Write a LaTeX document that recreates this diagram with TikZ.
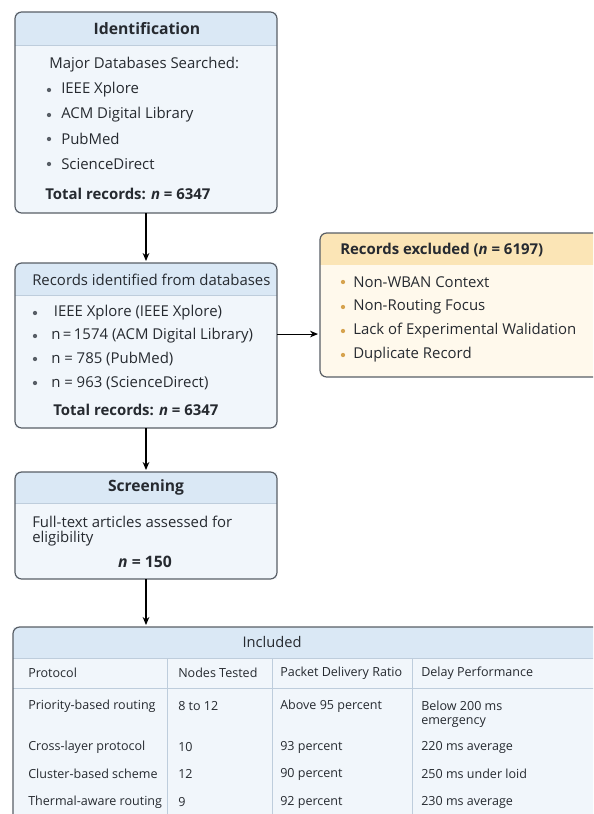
\documentclass[tikz,border=0pt]{standalone}
\usepackage{fontspec}
\setmainfont{Open Sans}
\usetikzlibrary{arrows.meta,fit}
\definecolor{prismahead}{RGB}{218,232,245}
\definecolor{prismabody}{RGB}{241,246,251}
\definecolor{prismaline}{RGB}{88,94,102}
\definecolor{prismarule}{RGB}{190,205,220}
\definecolor{exclhead}{RGB}{251,229,182}
\definecolor{exclbody}{RGB}{255,249,236}
\definecolor{exclbullet}{RGB}{214,163,78}
\definecolor{inktext}{RGB}{38,42,48}

\begin{document}
\begin{tikzpicture}[x=0.75pt, y=-0.75pt,
    every node/.style={font=\fontsize{11.2}{13}\selectfont, text=inktext, inner sep=0pt},
    stage/.style={fill=prismabody, inner sep=0pt, outer sep=0pt},
    frame/.style={draw=prismaline, line width=0.9pt, rounded corners=5pt},
    txt/.style={anchor=west},
    bold/.style={font=\bfseries\fontsize{11.2}{13}\selectfont},
    dot/.style={circle, fill=prismaline, minimum size=3.2pt},
    flow/.style={-{Stealth[length=6pt, width=5pt]}, line width=0.8pt, shorten >=1.5pt},
    tab/.style={anchor=west, font=\fontsize{9.4}{11}\selectfont}]

    \useasboundingbox (0,0) rectangle (593,814);
    \clip (0,0) rectangle (593,814);

    % Identification
    \node[stage, fit={(15,12) (277,213)}] (ident) {};
    \begin{scope}
        \clip[rounded corners=5pt] (ident.north west) rectangle (ident.south east);
        \fill[prismahead] (15,12) rectangle (277,45);
    \end{scope}
    \draw[prismarule] (15,45) -- (277,45);
    \draw[frame] (ident.north west) rectangle (ident.south east);
    \node[font=\bfseries\fontsize{11.8}{14}\selectfont] (identhead) at (147,29) {Identification};
    \node[txt] (identsub) at (49,65) {Major Databases Searched:};
    \foreach \y/\db in {90/IEEE Xplore, 115/ACM Digital Library, 139/PubMed, 164/ScienceDirect} {
        \node[dot] (identdot\y) at (49,\y) {};
        \node[txt] (identdb\y) at (61,\y) {\db};
    }
    \node[txt, bold] (identtotal) at (45,194) {Total records: \textit{n} = 6347};

    % Records identified
    \node[stage, fit={(15,263) (277,428)}] (recs) {};
    \begin{scope}
        \clip[rounded corners=5pt] (recs.north west) rectangle (recs.south east);
        \fill[prismahead] (15,263) rectangle (277,295);
    \end{scope}
    \draw[prismarule] (15,295) -- (277,295);
    \draw[frame] (recs.north west) rectangle (recs.south east);
    \node[txt] (recshead) at (32,280) {Records identified from databases};
    \foreach \y/\db in {313/{\hspace{2pt}IEEE Xplore (IEEE Xplore)}, 336/n\,=\,1574 (ACM Digital Library), 359/n = 785 (PubMed), 383/n = 963 (ScienceDirect)} {
        \node[dot] (recsdot\y) at (35,\y) {};
        \node[txt] (recsdb\y) at (51,\y) {\db};
    }
    \node[txt, bold] (recstotal) at (53,410) {Total records: \textit{n} = 6347};

    % Records excluded
    \node[stage, fill=exclbody, fit={(320,233) (615,377)}] (excl) {};
    \begin{scope}
        \clip[rounded corners=5pt] (excl.north west) rectangle (excl.south east);
        \fill[exclhead] (320,233) rectangle (615,265);
    \end{scope}
    \draw[frame] (excl.north west) rectangle (excl.south east);
    \node[txt, bold] (exclhead) at (340,250) {Records excluded (\textit{n} = 6197)};
    \foreach \y/\why in {282/Non-WBAN Context, 307/Non-Routing Focus, 331/Lack of Experimental Walidation, 355/Duplicate Record} {
        \node[dot, fill=exclbullet] (excldot\y) at (343,\y) {};
        \node[txt] (exclwhy\y) at (353,\y) {\why};
    }

    % Screening
    \node[stage, fit={(15,472) (277,579)}] (scr) {};
    \begin{scope}
        \clip[rounded corners=5pt] (scr.north west) rectangle (scr.south east);
        \fill[prismahead] (15,472) rectangle (277,503);
    \end{scope}
    \draw[prismarule] (15,503) -- (277,503);
    \draw[frame] (scr.north west) rectangle (scr.south east);
    \node[font=\bfseries\fontsize{11.7}{14}\selectfont] (scrhead) at (146,487) {Screening};
    \node[txt] (scrline1) at (32,522) {Full-text articles assessed for};
    \node[txt] (scrline2) at (32,539) {eligibility};
    \node[font=\bfseries\fontsize{11.8}{14}\selectfont] (scrcount) at (145,562) {\textit{n} = 150};

    % Included
    \node[stage, fit={(13,627) (660,830)}] (incl) {};
    \begin{scope}
        \clip[rounded corners=5pt] (incl.north west) rectangle (incl.south east);
        \fill[prismahead] (13,627) rectangle (660,658);
    \end{scope}
    \draw[prismarule] (13,658) -- (660,658);
    \draw[prismarule] (13,688) -- (660,688);
    \foreach \x in {167,272,412}
        \draw[prismarule] (\x,658) -- (\x,830);
    \draw[frame] (incl.north west) rectangle (incl.south east);
    \node[font=\fontsize{11}{13}\selectfont] (inclhead) at (272,642) {Included};
    \node[tab] (colproto) at (28,673) {Protocol};
    \node[tab] (colnodes) at (178,673) {Nodes Tested};
    \node[tab] (colpdr) at (280,673) {Packet Delivery Ratio};
    \node[tab] (coldelay) at (421,673) {Delay Performance};
    \foreach \y/\pr/\nd/\pdr/\dl in {706/Priority-based routing/8 to 12/Above 95 percent/Below 200 ms,
        747/Cross-layer protocol/10/93 percent/220 ms average,
        774/Cluster-based scheme/12/90 percent/250 ms under loid,
        802/Thermal-aware routing/9/92 percent/230 ms average} {
        \node[tab] (proto\y) at (28,\y) {\pr};
        \node[tab] (nodes\y) at (178,\y) {\nd};
        \node[tab] (pdr\y) at (280,\y) {\pdr};
        \node[tab] (delay\y) at (421,\y) {\dl};
    }
    \node[tab] (delay706b) at (421,723) {emergency};

    % Arrows
    \draw[flow] (ident.south) -- (recs.north);
    \draw[flow] ([yshift=8.6pt]recs.east) -- ([yshift=8.6pt]recs.east -| excl.west);
    \draw[flow] (recs.south) -- (scr.north);
    \draw[flow] (scr.south) -- (scr.south |- incl.north);
\end{tikzpicture}
\end{document}
